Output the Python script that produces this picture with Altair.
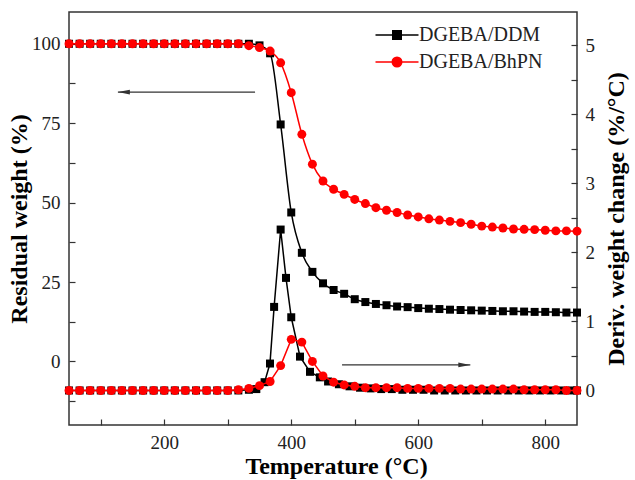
import altair as alt
import pandas as pd

# ---------------- data ----------------
SERIES = ["DGEBA/DDM", "DGEBA/BhPN"]

TEMP = [50, 66.7, 83.3, 100, 116.7, 133.3, 150, 166.7, 183.3, 200,
        216.7, 233.3, 250, 266.7, 283.3, 300, 316.7, 333.3, 350, 366.7,
        383.3, 400, 416.7, 433.3, 450, 466.7, 483.3, 500, 516.7, 533.3,
        550, 566.7, 583.3, 600, 616.7, 633.3, 650, 666.7, 683.3, 700,
        716.7, 733.3, 750, 766.7, 783.3, 800, 816.7, 833.3, 850]

TG_DDM = [100, 100, 100, 100, 100, 100, 100, 100, 100, 100,
          100, 100, 100, 100, 100, 100, 100, 100, 99.5, 97.0,
          74.6, 46.9, 34.2, 28.2, 24.6, 22.5, 21.3, 19.6, 18.7, 18.1,
          17.7, 17.3, 17.1, 16.8, 16.6, 16.5, 16.3, 16.2, 16.1, 16.0,
          15.9, 15.8, 15.8, 15.7, 15.6, 15.6, 15.5, 15.4, 15.4]

TG_BHPN = [100, 100, 100, 100, 100, 100, 100, 100, 100, 100,
           100, 100, 100, 100, 100, 100, 100, 99.4, 98.8, 97.7,
           94.0, 84.6, 71.5, 62.1, 56.8, 54.2, 52.6, 51.0, 49.7, 48.4,
           47.6, 46.9, 46.1, 45.5, 44.9, 44.5, 44.1, 43.7, 43.2, 42.6,
           42.3, 42.0, 41.7, 41.6, 41.5, 41.3, 41.1, 41.1, 41.0]

DTG_BHPN = [0, 0, 0, 0, 0, 0, 0, 0, 0, 0,
            0, 0, 0, 0, 0, 0, 0.01, 0.03, 0.07, 0.13,
            0.36, 0.74, 0.70, 0.42, 0.21, 0.12, 0.08, 0.06, 0.04, 0.04,
            0.04, 0.04, 0.03, 0.03, 0.03, 0.03, 0.03, 0.02, 0.02, 0.02,
            0.02, 0.02, 0.02, 0.01, 0.01, 0.01, 0.01, 0.0, 0.0]

DTG_DDM_TEMP = [50, 66.7, 83.3, 100, 116.7, 133.3, 150, 166.7, 183.3, 200,
                216.7, 233.3, 250, 266.7, 283.3, 300, 316.7, 333.3, 345, 358,
                366.5, 373, 383.3, 391.7, 400, 413.8, 429.5, 445, 458, 475,
                491.7, 508.3, 525, 541.7, 558.3, 575, 591.7, 608.3, 625, 641.7,
                658.3, 675, 691.7, 708.3, 725, 741.7, 758.3, 775, 791.7, 808.3,
                825, 841.7, 850]
DTG_DDM = [0, 0, 0, 0, 0, 0, 0, 0, 0, 0,
           0, 0, 0, 0, 0, 0, 0, 0.01, 0.02, 0.12,
           0.39, 1.21, 2.33, 1.63, 1.06, 0.49, 0.27, 0.19, 0.13, 0.09,
           0.06, 0.04, 0.03, 0.02, 0.02, 0.01, 0.01, 0.01, 0, 0,
           0, 0, 0, 0, 0, 0, 0, 0, 0, 0,
           0, 0, 0]

X_TICKS = [100, 200, 300, 400, 500, 600, 700, 800]
LEFT_TICKS = [-12.5, 0, 12.5, 25, 37.5, 50, 62.5, 75, 87.5, 100]
RIGHT_TICKS = [0, 0.5, 1, 1.5, 2, 2.5, 3, 3.5, 4, 4.5, 5]

# arrow annotations (data units)
ARROW_LEFT_T = [343, 127]
ARROW_LEFT_V = 84.8
ARROW_RIGHT_T = [480, 682]
ARROW_RIGHT_V = 0.37

# ---------------- frames ----------------
tg_ddm = pd.DataFrame({"T": TEMP, "v": TG_DDM, "series": SERIES[0]})
tg_bhpn = pd.DataFrame({"T": TEMP, "v": TG_BHPN, "series": SERIES[1]})
dtg_ddm = pd.DataFrame({"T": DTG_DDM_TEMP, "v": DTG_DDM, "series": SERIES[0]})
dtg_bhpn = pd.DataFrame({"T": TEMP, "v": DTG_BHPN, "series": SERIES[1]})
tg_all = pd.concat([tg_ddm, tg_bhpn], ignore_index=True)
arrow_l = pd.DataFrame({"T": [ARROW_LEFT_T[0]], "T2": [ARROW_LEFT_T[1]], "v": [ARROW_LEFT_V]})
arrow_r = pd.DataFrame({"T": [ARROW_RIGHT_T[0]], "T2": [ARROW_RIGHT_T[1]], "v": [ARROW_RIGHT_V]})

FONT = "Liberation Serif"

X_AXIS = alt.Axis(values=X_TICKS,
                  labelExpr="datum.value % 200 == 0 ? datum.label : ''",
                  offset=-6, tickSize=6, domain=False, grid=False, labelOverlap=False,
                  labelPadding=8, title="Temperature (°C)", titlePadding=2, titleX=267)
LEFT_AXIS = alt.Axis(values=LEFT_TICKS,
                     labelExpr="datum.value % 25 == 0 ? format(datum.value, 'd') : ''",
                     offset=-6, tickSize=6, domain=False, grid=False, labelOverlap=False,
                     labelPadding=9, title="Residual weight (%)", titlePadding=0)
RIGHT_AXIS = alt.Axis(values=RIGHT_TICKS, orient="right",
                      labelExpr="datum.value % 1 == 0 ? format(datum.value, 'd') : ''",
                      offset=-6, tickSize=6, domain=False, grid=False, labelOverlap=False,
                      labelPadding=8, title="Deriv. weight change (%/°C)",
                      titleAngle=270, titleBaseline="top", titlePadding=10)

XS = alt.Scale(domain=[50, 850], nice=False, zero=False)
LS = alt.Scale(domain=[-20, 110], nice=False, zero=False)
RS = alt.Scale(domain=[-0.5, 5.48], nice=False, zero=False)


def xe():
    return alt.X("T:Q", scale=XS, axis=X_AXIS)


def yl():
    return alt.Y("v:Q", scale=LS, axis=LEFT_AXIS)


def yr():
    return alt.Y("v:Q", scale=RS, axis=RIGHT_AXIS)


def series_layers(df, color, shape, size, yfun, interp):
    line = alt.Chart(df).mark_line(color=color, strokeWidth=1.5,
                                   interpolate=interp).encode(x=xe(), y=yfun())
    pts = alt.Chart(df).mark_point(shape=shape, filled=True, size=size,
                                   color=color, opacity=1).encode(x=xe(), y=yfun())
    return [line, pts]


SQ_PATH = "M-4.3,0H4.3M-0.85,-0.85H0.85V0.85H-0.85Z"
CI_PATH = "M-4.3,0H4.3M0.95,0A0.95,0.95,0,1,1,-0.95,0A0.95,0.95,0,1,1,0.95,0Z"
LEG = alt.Legend(orient="none", legendX=318, legendY=13, title=None,
                 labelFont=FONT, labelFontSize=20, labelColor="#222",
                 symbolSize=100, symbolStrokeWidth=1.5, symbolOpacity=1,
                 labelOffset=12, rowPadding=7, padding=0, symbolOffset=0)

legend_layer = alt.Chart(tg_all).transform_filter("datum.T < 0").mark_point(
    filled=True, opacity=1, size=100).encode(
    x=xe(), y=yl(),
    shape=alt.Shape("series:N", scale=alt.Scale(domain=SERIES, range=[SQ_PATH, CI_PATH]), legend=LEG),
    fill=alt.Fill("series:N", scale=alt.Scale(domain=SERIES, range=["black", "red"]), legend=LEG),
    stroke=alt.Stroke("series:N", scale=alt.Scale(domain=SERIES, range=["black", "red"]), legend=LEG),
)

ARROW_COLOR = "#333"
arrow_l_rule = alt.Chart(arrow_l).mark_rule(color=ARROW_COLOR, strokeWidth=1.2).encode(
    x=xe(), x2="T2:Q", y=yl())
arrow_l_head = alt.Chart(arrow_l).mark_point(shape="M0,0L2,-0.4L2,0.4Z", filled=True,
                                             size=144, color=ARROW_COLOR, opacity=1).encode(
    x=alt.X("T2:Q", scale=XS, axis=X_AXIS), y=yl())
arrow_r_rule = alt.Chart(arrow_r).mark_rule(color=ARROW_COLOR, strokeWidth=1.2).encode(
    x=xe(), x2="T2:Q", y=yr())
arrow_r_head = alt.Chart(arrow_r).mark_point(shape="M0,0L-2,-0.4L-2,0.4Z", filled=True,
                                             size=144, color=ARROW_COLOR, opacity=1).encode(
    x=alt.X("T2:Q", scale=XS, axis=X_AXIS), y=yr())

left = alt.layer(
    *series_layers(tg_ddm, "black", "square", 64, yl, "monotone"),
    *series_layers(tg_bhpn, "red", "circle", 80, yl, "monotone"),
    arrow_l_rule, arrow_l_head, legend_layer,
)
right = alt.layer(
    *series_layers(dtg_ddm, "black", "square", 64, yr, "linear"),
    *series_layers(dtg_bhpn, "red", "circle", 80, yr, "linear"),
    arrow_r_rule, arrow_r_head,
)

chart = alt.layer(left, right).resolve_scale(y="independent").properties(
    width=508, height=413,
    autosize=alt.AutoSizeParams(type="none"),
    padding={"left": 69, "top": 12, "right": 58, "bottom": 55},
).configure_view(stroke="#333", strokeWidth=1.5).configure_axis(
    labelFont=FONT, labelFontSize=19, labelColor="#222",
    tickColor="#333", tickWidth=1.2,
    titleFont=FONT, titleFontSize=24, titleFontWeight="bold", titleColor="black",
)

chart.save("out.html", embed_options={"renderer": "svg", "actions": False})
